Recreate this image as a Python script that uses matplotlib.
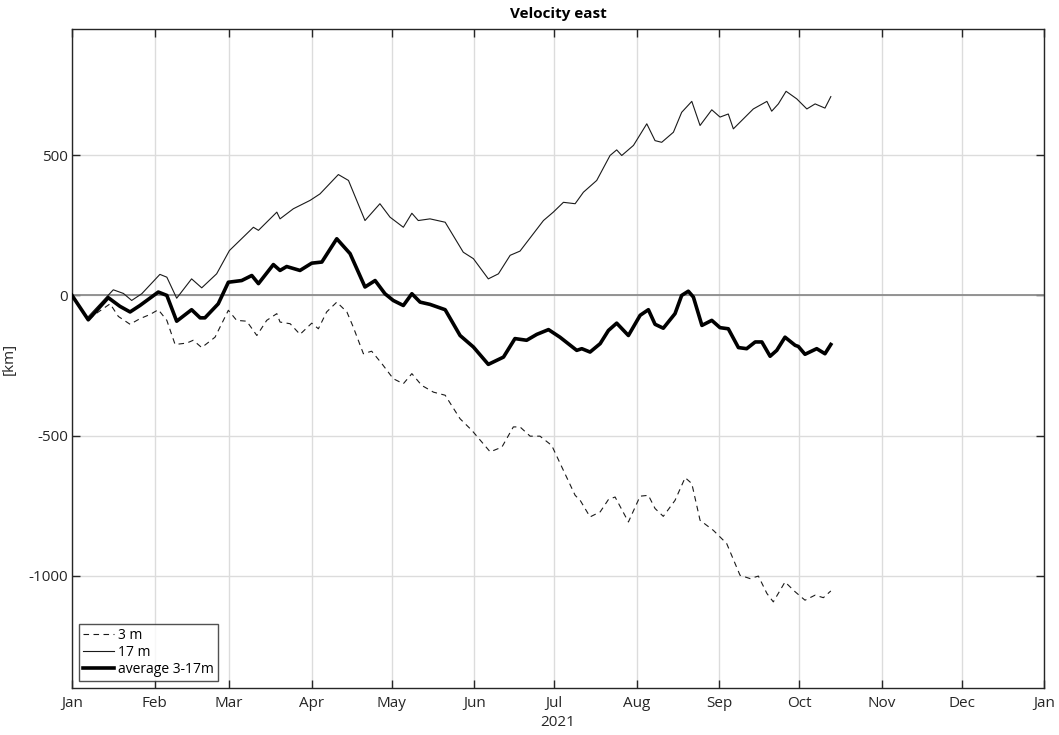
import matplotlib
matplotlib.use("Agg")
import matplotlib.pyplot as plt
import matplotlib.dates as mdates
import numpy as np
import datetime as dt

# Day offsets from 1 Jan 2021 and values [km]
days_17m = [0, 5.5, 15.5, 19.3, 22.4, 26.2, 33.0, 35.6, 39.3, 44.9, 48.7, 54.3, 59.1, 68.1, 70.0,
            76.9, 78.1, 83.1, 89.4, 93.1, 100.0, 103.8, 110.0, 115.6, 119.4, 124.4, 127.6, 130.0,
            134.4, 140.1, 146.9, 150.7, 156.3, 160.1, 164.5, 168.2, 177.0, 180.7, 184.5, 188.9,
            192.0, 197.0, 202.0, 204.5, 206.4, 210.8, 215.8, 218.9, 221.4, 225.8, 228.9, 232.7,
            235.8, 240.2, 243.3, 246.4, 248.3, 255.8, 260.9, 262.7, 265.2, 268.1, 272.1, 275.9,
            279.0, 282.7, 284.9]
vals_17m = [0, -82, 20, 7, -18, 6, 75, 65, -10, 59, 27, 77, 160, 243, 232, 297, 273, 309, 339, 362,
            431, 410, 267, 327, 279, 243, 293, 267, 273, 261, 154, 131, 59, 77, 143, 158, 267, 297,
            332, 327, 368, 410, 499, 519, 499, 535, 612, 552, 546, 582, 653, 692, 606, 662, 636, 647,
            594, 665, 692, 657, 683, 728, 701, 665, 683, 668, 709]

days_avg = [0, 6.1, 13.6, 18.0, 21.8, 25.5, 32.4, 35.6, 39.3, 44.9, 48.1, 49.9, 54.9, 58.7, 63.7,
            67.5, 70.0, 75.6, 78.1, 80.6, 85.6, 90.0, 93.8, 99.4, 104.4, 110.0, 113.8, 117.5, 120.6,
            124.4, 127.6, 130.7, 134.4, 140.1, 145.7, 150.7, 156.3, 162.0, 166.3, 170.7, 174.5,
            178.9, 183.2, 189.5, 191.4, 194.5, 198.3, 201.4, 204.5, 208.9, 213.3, 216.4, 218.9,
            222.0, 226.4, 228.9, 231.4, 233.3, 236.5, 240.2, 243.3, 246.4, 250.2, 253.3, 256.5,
            259.0, 262.1, 264.6, 267.7, 271.5, 272.7, 275.2, 279.6, 282.7, 284.9]
vals_avg = [0, -87, -8, -39, -59, -36, 12, 0, -92, -51, -80, -80, -30, 47, 53, 71, 42, 110, 89, 103,
            89, 115, 119, 202, 149, 30, 53, 6, -18, -36, 6, -24, -32, -51, -143, -184, -246, -220,
            -154, -160, -139, -122, -149, -196, -190, -202, -172, -125, -99, -143, -71, -51, -103,
            -117, -65, 0, 15, -6, -107, -89, -115, -119, -186, -190, -166, -166, -217, -196, -149,
            -178, -182, -210, -190, -208, -175]

days_3m = [0, 6.1, 9.3, 14.3, 17.4, 21.8, 25.5, 29.3, 32.4, 35.6, 38.7, 43.1, 45.5, 48.7, 53.7,
           58.7, 61.8, 65.6, 69.4, 73.1, 76.9, 78.1, 81.9, 85.6, 90.0, 92.5, 95.6, 99.4, 103.2,
           105.6, 109.4, 112.5, 116.3, 120.6, 124.4, 127.6, 131.3, 135.7, 140.1, 145.7, 150.1,
           157.0, 161.4, 165.7, 168.2, 172.0, 175.7, 180.1, 183.9, 188.9, 190.8, 194.5, 198.3,
           201.4, 203.9, 208.9, 213.3, 216.4, 218.9, 222.0, 226.4, 230.2, 232.7, 235.8, 240.8,
           245.8, 250.8, 254.6, 257.7, 260.9, 263.3, 267.7, 271.5, 275.2, 279.0, 282.1, 284.9]
vals_3m = [0, -87, -63, -30, -75, -103, -83, -68, -51, -89, -175, -170, -160, -186, -149, -53, -89,
           -92, -143, -89, -65, -95, -101, -139, -99, -119, -59, -24, -59, -113, -208, -199, -243,
           -297, -315, -279, -321, -345, -356, -440, -481, -558, -541, -469, -469, -502, -502,
           -535, -612, -713, -731, -790, -772, -728, -719, -808, -716, -713, -760, -788, -731,
           -650, -671, -802, -838, -885, -998, -1010, -1001, -1063, -1093, -1022, -1057, -1087,
           -1069, -1078, -1054]

month_labels = ["Jan", "Feb", "Mar", "Apr", "May", "Jun", "Jul", "Aug", "Sep", "Oct", "Nov", "Dec", "Jan"]
yticks = [-1000, -500, 0, 500]

plt.rcParams['font.family'] = ['Open Sans', 'DejaVu Sans']
plt.rcParams.update({
    'xtick.direction': 'in', 'ytick.direction': 'in',
    'xtick.top': True, 'ytick.right': True,
    'xtick.major.size': 6, 'ytick.major.size': 6,
    'xtick.major.width': 1, 'ytick.major.width': 1,
    'xtick.major.pad': 6, 'ytick.major.pad': 3,
    'xtick.labelsize': 11, 'ytick.labelsize': 11,
    'xtick.color': '#262626', 'ytick.color': '#262626',
})

start = dt.datetime(2021, 1, 1)
def to_dates(days):
    return [start + dt.timedelta(days=d) for d in days]

fig = plt.figure(figsize=(10.59, 7.35), dpi=100)
ax = fig.add_axes([0.068, 0.064, 0.918, 0.8965])

ax.axhline(0, color='#8c8c8c', lw=1.3, zorder=1)
ax.plot(to_dates(days_3m), vals_3m, color='#1a1a1a', lw=0.8, ls=(0, (5, 4)), label='3 m', zorder=3)
ax.plot(to_dates(days_17m), vals_17m, color='#1a1a1a', lw=0.8, label='17 m', zorder=3)
ax.plot(to_dates(days_avg), vals_avg, color='black', lw=2.6, label='average 3-17m', zorder=4)

month_dates = [dt.datetime(2021, m, 1) for m in range(1, 13)] + [dt.datetime(2022, 1, 1)]
ax.set_xticks(month_dates)
ax.set_xticklabels(month_labels)
ax.set_xlim(month_dates[0], month_dates[-1])
ax.set_ylim(-1400, 950)
ax.set_yticks(yticks)
ax.set_yticklabels([str(v) for v in yticks])

ax.grid(True, color='#dcdcdc', lw=1.0, zorder=0)
ax.set_axisbelow(True)
for s in ax.spines.values():
    s.set_color('#262626')
    s.set_linewidth(1.0)

ax.set_title('Velocity east', fontsize=11, fontweight='bold', pad=8)
ax.set_ylabel('[km]', fontsize=11, color='#262626')
ax.yaxis.set_label_coords(-0.057, 0.5)
ax.set_xlabel('2021', fontsize=11, color='#262626', labelpad=3)

leg = ax.legend(loc='lower left', fontsize=10, frameon=True, fancybox=False,
                edgecolor='#262626', borderpad=0.3, handlelength=2.2, handletextpad=0.3,
                labelspacing=0.15, borderaxespad=0.5)
leg.get_frame().set_linewidth(1.0)

fig.savefig('out.png', dpi=100)
